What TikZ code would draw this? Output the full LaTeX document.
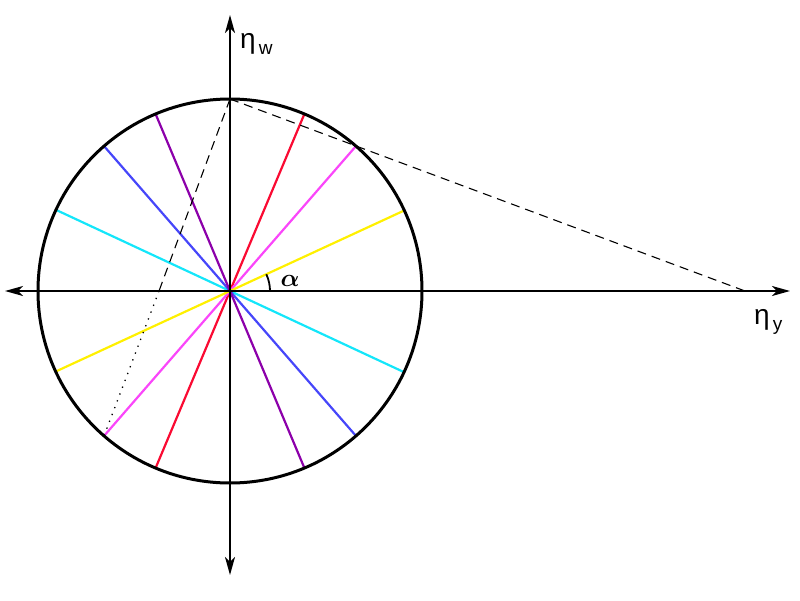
\documentclass[tikz,border=0pt]{standalone}
\usepackage{amsmath}
\usepackage{fontspec}
\newfontfamily\lsans{Liberation Sans}
\usetikzlibrary{arrows.meta,calc}
\definecolor{cred}{RGB}{250,10,50}
\definecolor{cmag}{RGB}{250,70,250}
\definecolor{cyel}{RGB}{255,240,0}
\definecolor{ccya}{RGB}{20,230,250}
\definecolor{cblu}{RGB}{70,70,250}
\definecolor{cpur}{RGB}{140,0,170}
\begin{document}
\begin{tikzpicture}[x=1pt,y=-1pt,
  axis/.style={line width=1.6pt,-{Stealth[length=18pt,width=10pt,inset=5pt]}},
  ray/.style={line width=2.2pt}]
\useasboundingbox (0,0) rectangle (800,600);
\coordinate (O) at (230,291);
\foreach \a/\c in {67.2/cred,49/cmag,24.8/cyel,-25/ccya,-49/cblu,-67.2/cpur}
  \draw[ray,\c] ($(O)+(-\a:-192)$) -- ($(O)+(-\a:192)$);
\coordinate (T) at (230,99);
\coordinate (Ml) at ($(O)+(-49:-192)$);
\coordinate (X) at (745,291);
\coordinate (Xc) at (159,291);
\draw[line width=1.1pt,dash pattern=on 9pt off 6pt] (T) -- (X);
\draw[line width=1.1pt,dash pattern=on 9pt off 6pt] (T) -- (Xc);
\draw[line width=1.3pt,dash pattern=on 1.3pt off 6pt] (Xc) -- (Ml);
\coordinate (L) at (5,291);
\coordinate (R) at (790,291);
\coordinate (B) at (230,575);
\coordinate (U) at (230,15);
\draw[axis] (O) -- (L);
\draw[axis] (O) -- (R);
\draw[axis] (O) -- (B);
\draw[axis] (O) -- (U);
\draw[line width=3pt] (O) circle[radius=192];
\coordinate (A0) at (270,291);
\draw[line width=1.8pt] (A0) arc[start angle=0,end angle=-24.8,radius=40];
\node (al) at (290,281) {\fontsize{26}{26}\selectfont$\boldsymbol{\alpha}$};
\node[anchor=west,inner sep=0] (ew) at (240,44) {\fontsize{28}{28}\selectfont\lsans η\hspace{3pt}\raisebox{-6pt}{\fontsize{19}{19}\selectfont w}};
\node[anchor=west,inner sep=0] (ey) at (754,322) {\fontsize{28}{28}\selectfont\lsans η\hspace{3pt}\raisebox{-6pt}{\fontsize{19}{19}\selectfont y}};
\end{tikzpicture}
\end{document}
